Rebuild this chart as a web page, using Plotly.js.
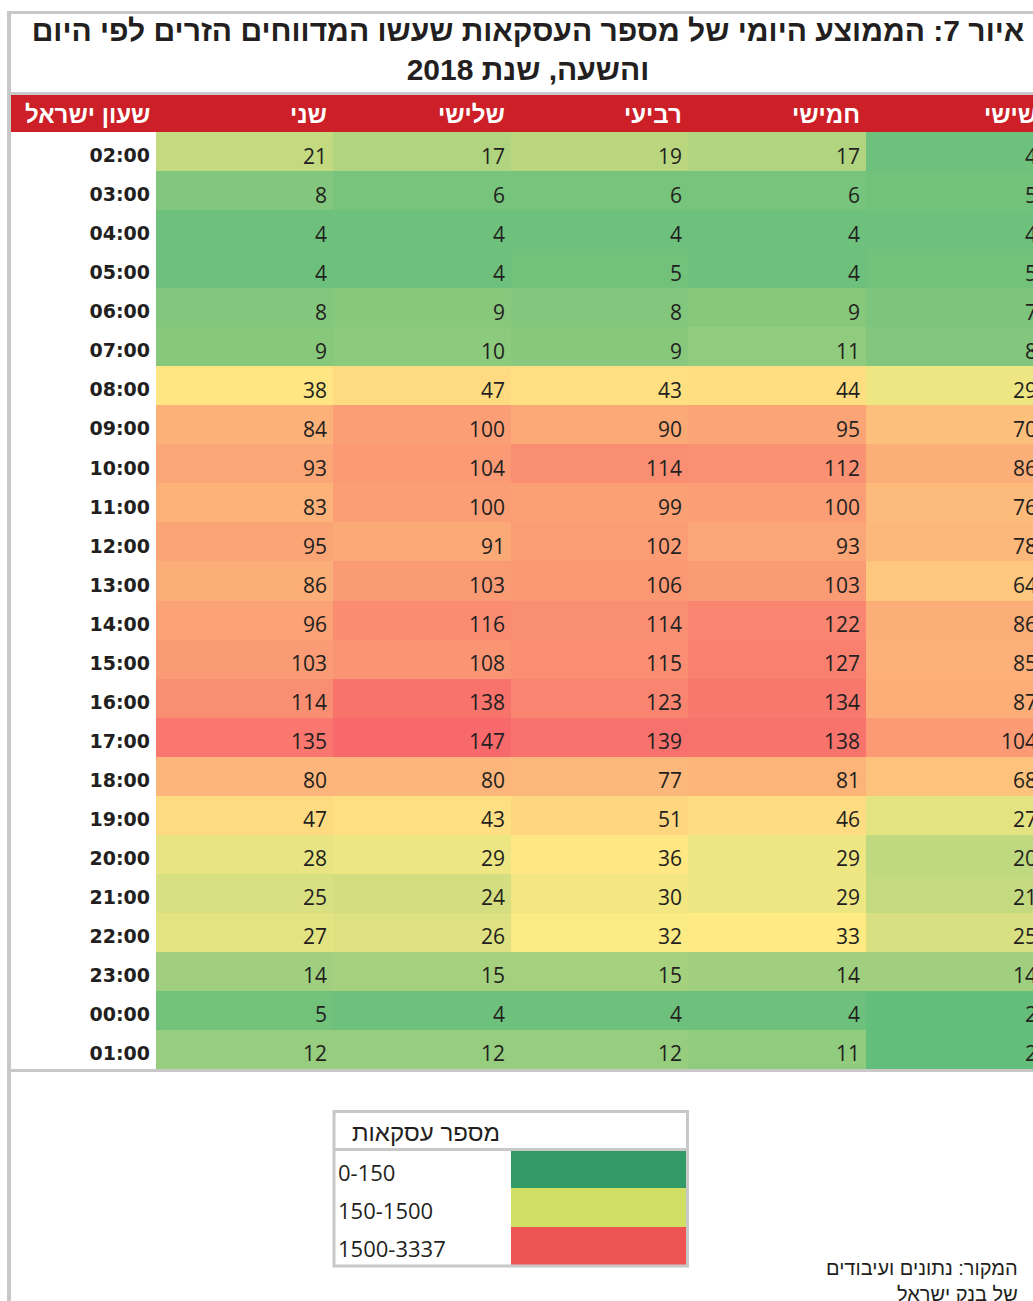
<!DOCTYPE html>
<html>
<head>
<meta charset="utf-8">
<script src="https://cdn.plot.ly/plotly-3.0.1.min.js"></script>
<style>
html,body{margin:0;padding:0;overflow:hidden;background:#fff;width:1033px;height:1301px;}
#chart{width:1050px;height:1301px;}
</style>
</head>
<body>
<div id="chart"></div>
<script>
// ---- data ----
const titleLine1 = 'איור 7: הממוצע היומי של מספר העסקאות שעשו המדווחים הזרים לפי היום';
const titleLine2 = 'והשעה, שנת 2018';
const timeHeader = 'שעון ישראל';
const days = ['שני', 'שלישי', 'רביעי', 'חמישי', 'שישי'];
const hours = ['02:00','03:00','04:00','05:00','06:00','07:00','08:00','09:00','10:00','11:00','12:00','13:00',
               '14:00','15:00','16:00','17:00','18:00','19:00','20:00','21:00','22:00','23:00','00:00','01:00'];
const monday    = [21, 8, 4, 4, 8, 9, 38, 84, 93, 83, 95, 86, 96, 103, 114, 135, 80, 47, 28, 25, 27, 14, 5, 12];
const tuesday   = [17, 6, 4, 4, 9, 10, 47, 100, 104, 100, 91, 103, 116, 108, 138, 147, 80, 43, 29, 24, 26, 15, 4, 12];
const wednesday = [19, 6, 4, 5, 8, 9, 43, 90, 114, 99, 102, 106, 114, 115, 123, 139, 77, 51, 36, 30, 32, 15, 4, 12];
const thursday  = [17, 6, 4, 4, 9, 11, 44, 95, 112, 100, 93, 103, 122, 127, 134, 138, 81, 46, 29, 29, 33, 14, 4, 11];
const friday    = [4, 5, 4, 5, 7, 8, 29, 70, 86, 76, 78, 64, 86, 85, 87, 104, 68, 27, 20, 21, 25, 14, 2, 2];
const legendTitle = 'מספר עסקאות';
const legendLabels = ['0-150', '150-1500', '1500-3337'];
const legendColors = ['#339966', '#d0df63', '#ef5454'];
const sourceLine1 = 'המקור: נתונים ועיבודים';
const sourceLine2 = 'של בנק ישראל';

// ---- build ----
const columns = [monday, tuesday, wednesday, thursday, friday];
const z = hours.map((h, r) => columns.map(col => col[r]));
const zmin = 2, zmax = 147, zmid = 32.5;

const W = 1050, H = 1301;
const px = v => v / W;
const py = v => 1 - v / H;
const colW = (1043 - 156) / 5;
const pad = 4 / colW;

const gray = '#c8c8c8';
const txt = '#231f20';
const numFont = {family: 'Open Sans, DejaVu Sans, sans-serif', size: 21, color: txt};
const hebFont = 'Liberation Sans, DejaVu Sans, Arial, sans-serif';

const heat = {
  type: 'heatmap',
  x: days.map((d, i) => i),
  y: hours,
  z: z,
  zmin: zmin, zmax: zmax,
  colorscale: [[0, '#63BE7B'], [(zmid - zmin) / (zmax - zmin), '#FFEB84'], [1, '#F8696B']],
  showscale: false,
  hoverinfo: 'skip',
  xgap: 0, ygap: 0
};

const annotations = [];
columns.forEach((col, c) => {
  col.forEach((v, r) => {
    annotations.push({
      x: c + 0.5 - pad, y: hours[r], xref: 'x', yref: 'y',
      text: String(v), xanchor: 'right', yanchor: 'middle', showarrow: false,
      font: numFont, yshift: -4
    });
  });
});
days.forEach((d, c) => {
  annotations.push({
    x: c + 0.5 - pad, y: py(114), xref: 'x', yref: 'paper',
    text: d, xanchor: 'right', yanchor: 'middle', showarrow: false,
    font: {family: hebFont, size: 24, color: '#ffffff', weight: 'bold'}
  });
});
annotations.push({
  x: px(152), y: py(114), xref: 'paper', yref: 'paper',
  text: timeHeader, xanchor: 'right', yanchor: 'middle', showarrow: false,
  font: {family: hebFont, size: 24, color: '#ffffff', weight: 'bold'}
});
// legend
annotations.push({
  x: px(502), y: py(1132), xref: 'paper', yref: 'paper',
  text: legendTitle, xanchor: 'right', yanchor: 'middle', showarrow: false,
  font: {family: hebFont, size: 24, color: txt}
});
const legRows = [[1151, 1188], [1188, 1227], [1227, 1265]];
const shapes = [];
legendLabels.forEach((lab, i) => {
  const [t, b] = legRows[i];
  annotations.push({
    x: px(336), y: py((t + b) / 2 + 2), xref: 'paper', yref: 'paper',
    text: lab, xanchor: 'left', yanchor: 'middle', showarrow: false,
    font: {family: numFont.family, size: 22, color: txt}
  });
  shapes.push({type: 'rect', xref: 'paper', yref: 'paper', x0: px(511), x1: px(686), y0: py(b), y1: py(t),
    fillcolor: legendColors[i], line: {width: 0}, layer: 'above'});
});
// source (one block, two lines)
annotations.push({
  x: px(1020), y: py(1281), xref: 'paper', yref: 'paper',
  text: sourceLine1 + '<br>' + sourceLine2, align: 'right',
  xanchor: 'right', yanchor: 'middle', showarrow: false,
  font: {family: hebFont, size: 20, color: txt}
});

// frame shapes
const line = (x0, y0, x1, y1, w) => ({type: 'line', xref: 'paper', yref: 'paper',
  x0: px(x0), y0: py(y0), x1: px(x1), y1: py(y1), line: {color: gray, width: w}, layer: 'above'});
shapes.push({type: 'rect', xref: 'paper', yref: 'paper', x0: px(11), x1: px(1050), y0: py(132), y1: py(95),
  fillcolor: '#cc1f27', line: {width: 0}, layer: 'below'});
shapes.push(line(9, 11, 9, 1301, 4));
shapes.push(line(7, 12.5, 1050, 12.5, 3));
shapes.push(line(7, 93.5, 1050, 93.5, 3));
shapes.push(line(7, 1070.5, 1050, 1070.5, 3));
// legend box
shapes.push({type: 'rect', xref: 'paper', yref: 'paper', x0: px(334), x1: px(687.5), y0: py(1266), y1: py(1111.5),
  fillcolor: 'rgba(0,0,0,0)', line: {color: gray, width: 3}, layer: 'above'});
shapes.push(line(334, 1149.5, 687.5, 1149.5, 3));

const layout = {
  width: W, height: H,
  margin: {l: 0, r: 0, t: 0, b: 0},
  paper_bgcolor: '#ffffff', plot_bgcolor: '#ffffff',
  showlegend: false,
  title: {
    text: titleLine1 + '<br>' + titleLine2,
    x: px(528), xanchor: 'center', xref: 'paper',
    y: py(41), yanchor: 'middle', yref: 'paper',
    font: {family: hebFont, size: 30, color: txt, weight: 'bold'}
  },
  xaxis: {domain: [px(156), px(1043)], range: [-0.5, 4.5], showgrid: false, zeroline: false,
          showticklabels: false, ticks: '', showline: false, fixedrange: true},
  yaxis: {domain: [py(1069), py(132)], type: 'category', range: [23.5, -0.5],
          showgrid: false, zeroline: false, showline: false, ticks: '',
          tickfont: {family: 'DejaVu Sans, sans-serif', size: 19, color: txt, weight: 'bold'},
          ticklabelstandoff: 5, ticklabelshift: -4, fixedrange: true},
  annotations: annotations,
  shapes: shapes
};

Plotly.newPlot('chart', [heat], layout, {displayModeBar: false, staticPlot: true});
</script>
</body>
</html>
